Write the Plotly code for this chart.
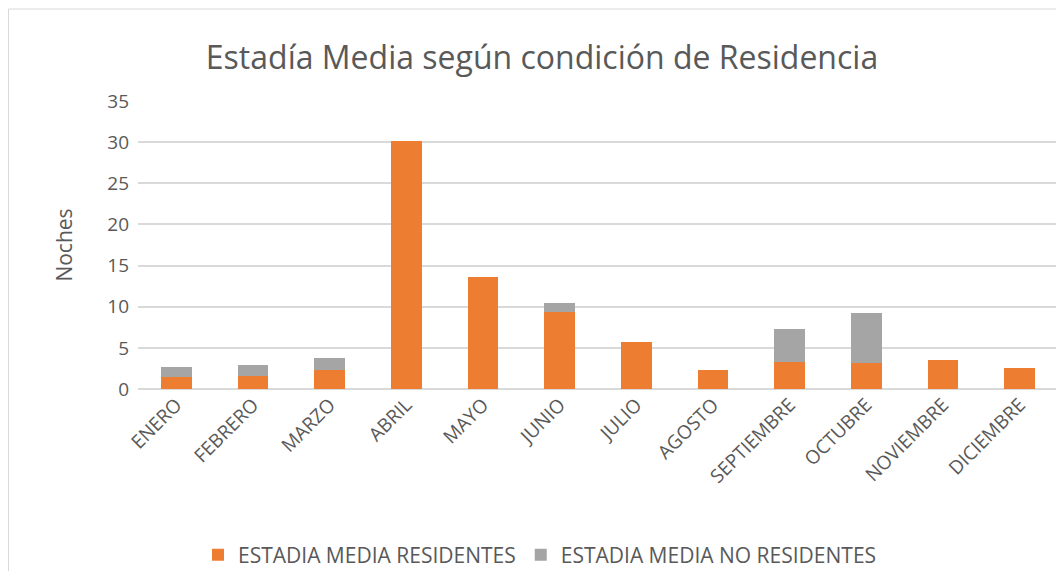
import plotly.graph_objects as go

meses = ["ENERO", "FEBRERO", "MARZO", "ABRIL", "MAYO", "JUNIO", "JULIO",
         "AGOSTO", "SEPTIEMBRE", "OCTUBRE", "NOVIEMBRE", "DICIEMBRE"]
residentes = [1.4, 1.6, 2.35, 30.2, 13.6, 9.4, 5.7, 2.3, 3.3, 3.15, 3.5, 2.55]
no_residentes = [1.3, 1.3, 1.4, 0, 0, 1.05, 0, 0, 4.0, 6.1, 0, 0]
y_ticks = [0, 5, 10, 15, 20, 25, 30, 35]

FONT = "Open Sans"
GREY_TXT = "#595959"

fig = go.Figure()
fig.add_trace(go.Bar(x=meses, y=residentes, name="ESTADIA MEDIA RESIDENTES",
                     marker=dict(color="#ED7D31", line=dict(width=0))))
fig.add_trace(go.Bar(x=meses, y=no_residentes, name="ESTADIA MEDIA NO RESIDENTES",
                     marker=dict(color="#A5A5A5", line=dict(width=0))))

OFF = 8  # page body margin
W, H = 1064 - OFF, 571 - OFF
L, T = 138 - OFF, 101 - OFF
R = W - (1058 - OFF)
B = H - (389 - OFF)
pw, ph = W - L - R, H - T - B

fig.update_layout(
    width=W, height=H,
    barmode="stack", bargap=0.6,
    plot_bgcolor="white", paper_bgcolor="white",
    margin=dict(l=L, r=R, t=T, b=B),
    font=dict(family=FONT, color=GREY_TXT),
    title=dict(text="Estadía Media según condición de Residencia",
               x=(542 - OFF) / W, xref="container", xanchor="center",
               y=1 - (58 - OFF) / H, yanchor="middle",
               font=dict(size=32, color=GREY_TXT, family=FONT)),
    xaxis=dict(tickangle=-45, tickfont=dict(size=19, color=GREY_TXT),
               showgrid=False, showline=False, ticks=""),
    yaxis=dict(range=[0, 35], tickvals=y_ticks, tickfont=dict(size=19, color=GREY_TXT),
               gridcolor="#D9D9D9", gridwidth=1.5, zeroline=True, zerolinecolor="#D9D9D9",
               zerolinewidth=1.5, showline=False, ticks="", ticklabelstandoff=8,
               title=dict(text="Noches", font=dict(size=21, color=GREY_TXT), standoff=28)),
    legend=dict(orientation="h", x=(540 - OFF) / W, xanchor="center", xref="container",
                y=(571 - 555) / H, yref="container", yanchor="middle",
                font=dict(size=21, color=GREY_TXT), traceorder="normal",
                itemwidth=30),
    showlegend=True,
)
# chart border
fig.add_shape(type="rect", xref="paper", yref="paper",
              x0=(0.5 - L) / pw, x1=(W + 20 - L) / pw,
              y0=-(B + 20) / ph, y1=(H - (9 - OFF) - B) / ph,
              line=dict(color="#D9D9D9", width=1), fillcolor="rgba(0,0,0,0)", layer="below")

fig.write_html("out.html")
